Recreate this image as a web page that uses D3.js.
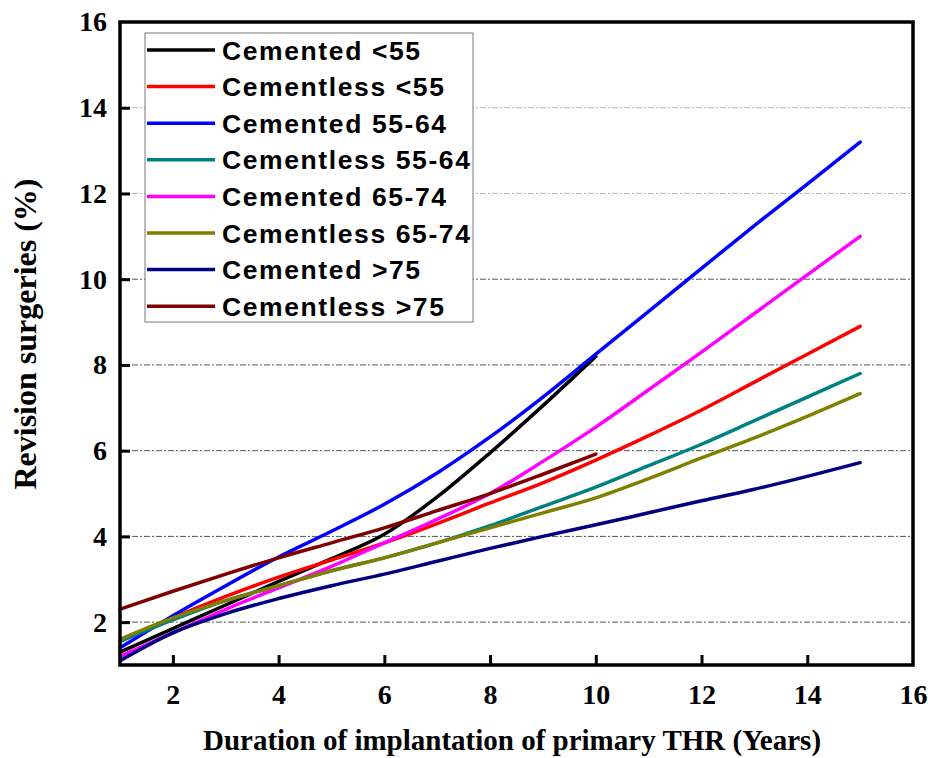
<!DOCTYPE html>
<html>
<head>
<meta charset="utf-8">
<script src="https://cdn.jsdelivr.net/npm/d3@7"></script>
<style>
  html, body { margin: 0; padding: 0; background: #fff; }
  svg { display: block; }
</style>
</head>
<body>
<div id="chart"></div>
<script>
// Revision surgery rate (%) over years since primary THR, by fixation and age group
const years = [1, 2, 3, 4, 5, 6, 7, 8, 9, 10, 11, 12, 13, 14, 15];

const seriesNames = [
  "Cemented <55", "Cementless <55", "Cemented 55-64", "Cementless 55-64",
  "Cemented 65-74", "Cementless 65-74", "Cemented >75", "Cementless >75"
];
const seriesColors = ["#000000", "#ff0000", "#0000ff", "#008080",
                      "#ff00ff", "#808000", "#000080", "#800000"];

const cementedUnder55      = [1.30, 1.85, 2.40, 2.95, 3.48, 4.05, 4.92, 5.95, 7.05, 8.20];
const cementlessUnder55    = [1.55, 2.10, 2.60, 3.05, 3.45, 3.85, 4.30, 4.78, 5.25, 5.78, 6.35, 6.95, 7.60, 8.25, 8.90];
const cemented55to64       = [1.40, 2.15, 2.85, 3.52, 4.12, 4.75, 5.48, 6.32, 7.25, 8.25, 9.25, 10.25, 11.25, 12.22, 13.20];
const cementless55to64     = [1.55, 2.05, 2.50, 2.85, 3.20, 3.50, 3.85, 4.25, 4.70, 5.15, 5.65, 6.15, 6.70, 7.25, 7.80];
const cemented65to74       = [1.20, 1.75, 2.30, 2.80, 3.30, 3.85, 4.40, 5.00, 5.75, 6.55, 7.42, 8.30, 9.20, 10.10, 11.00];
const cementless65to74     = [1.60, 2.10, 2.50, 2.85, 3.20, 3.50, 3.85, 4.20, 4.55, 4.90, 5.35, 5.83, 6.30, 6.80, 7.33];
const cementedOver75       = [1.10, 1.75, 2.20, 2.55, 2.85, 3.12, 3.42, 3.72, 4.00, 4.27, 4.55, 4.83, 5.10, 5.40, 5.72];
const cementlessOver75     = [2.30, 2.72, 3.12, 3.50, 3.85, 4.20, 4.60, 5.00, 5.45, 5.92];

const seriesValues = [cementedUnder55, cementlessUnder55, cemented55to64, cementless55to64,
                      cemented65to74, cementless65to74, cementedOver75, cementlessOver75];

const xTicks = [2, 4, 6, 8, 10, 12, 14, 16];
const yTicks = [2, 4, 6, 8, 10, 12, 14, 16];

const width = 928, height = 758;
const margin = { top: 22, right: 15, bottom: 93, left: 120 };

const svg = d3.select("#chart").append("svg")
  .attr("width", width).attr("height", height);

const x = d3.scaleLinear().domain([1, 16]).range([margin.left, width - margin.right]);
const y = d3.scaleLinear().domain([1, 16]).range([height - margin.bottom, margin.top]);

const serif = "'Liberation Serif', 'Times New Roman', serif";
const sans = "'Liberation Sans', Arial, sans-serif";

// dash-dot horizontal grid
svg.append("g").selectAll("line")
  .data(yTicks.filter(v => v < 16))
  .join("line")
  .attr("x1", x(1)).attr("x2", x(16))
  .attr("y1", d => y(d)).attr("y2", d => y(d))
  .attr("stroke", d => d > 10 ? "#b5b5b5" : "#555")
  .attr("stroke-width", 1)
  .attr("stroke-dasharray", "6,2,2,2");

// data lines
const line = d3.line()
  .x((d, i) => x(years[i]))
  .y(d => y(d))
  .curve(d3.curveMonotoneX);

svg.append("g").selectAll("path")
  .data(seriesValues)
  .join("path")
  .attr("fill", "none")
  .attr("stroke", (d, i) => seriesColors[i])
  .attr("stroke-width", 3.5)
  .attr("stroke-linecap", "round")
  .attr("d", d => line(d));

// axes with inward ticks
const xAxis = d3.axisBottom(x).tickValues(xTicks).tickSize(-10).tickPadding(19).tickFormat(d3.format("d"));
const yAxis = d3.axisLeft(y).tickValues(yTicks).tickSize(-10).tickPadding(13).tickFormat(d3.format("d"));

const gx = svg.append("g").attr("transform", `translate(0,${y(1)})`).call(xAxis);
const gy = svg.append("g").attr("transform", `translate(${x(1)},0)`).call(yAxis);

[gx, gy].forEach(g => {
  g.select(".domain").remove();
  g.selectAll(".tick line").attr("stroke", "#000").attr("stroke-width", 3);
  g.selectAll(".tick text")
    .attr("font-family", serif).attr("font-weight", "bold")
    .attr("font-size", 28).attr("fill", "#000");
});
gx.selectAll(".tick").filter(d => d === 16).select("line").remove();
gy.selectAll(".tick").filter(d => d === 16).select("line").remove();

// frame
svg.append("rect")
  .attr("x", x(1)).attr("y", y(16))
  .attr("width", x(16) - x(1)).attr("height", y(1) - y(16))
  .attr("fill", "none").attr("stroke", "#000").attr("stroke-width", 3.5);

// axis titles
svg.append("text")
  .attr("x", 512).attr("y", 750)
  .attr("text-anchor", "middle")
  .attr("font-family", serif).attr("font-weight", "bold").attr("font-size", 29)
  .text("Duration of implantation of primary THR (Years)");

svg.append("text")
  .attr("transform", `translate(36,334) rotate(-90)`)
  .attr("text-anchor", "middle")
  .attr("font-family", serif).attr("font-weight", "bold").attr("font-size", 32)
  .text("Revision surgeries (%)");

// legend
const legend = svg.append("g");
legend.append("rect")
  .attr("x", 145).attr("y", 33).attr("width", 328).attr("height", 289)
  .attr("fill", "#fff").attr("stroke", "#777").attr("stroke-width", 1);

const entry = legend.selectAll("g.entry")
  .data(seriesNames)
  .join("g")
  .attr("class", "entry")
  .attr("transform", (d, i) => `translate(0,${50 + i * 36.6})`);

entry.append("line")
  .attr("x1", 147).attr("x2", 215)
  .attr("stroke", (d, i) => seriesColors[i]).attr("stroke-width", 3.5);

entry.append("text")
  .attr("x", 222).attr("y", 9.5)
  .attr("font-family", sans).attr("font-weight", "bold").attr("font-size", 26.5)
  .attr("letter-spacing", 1.6)
  .text(d => d);
</script>
</body>
</html>
